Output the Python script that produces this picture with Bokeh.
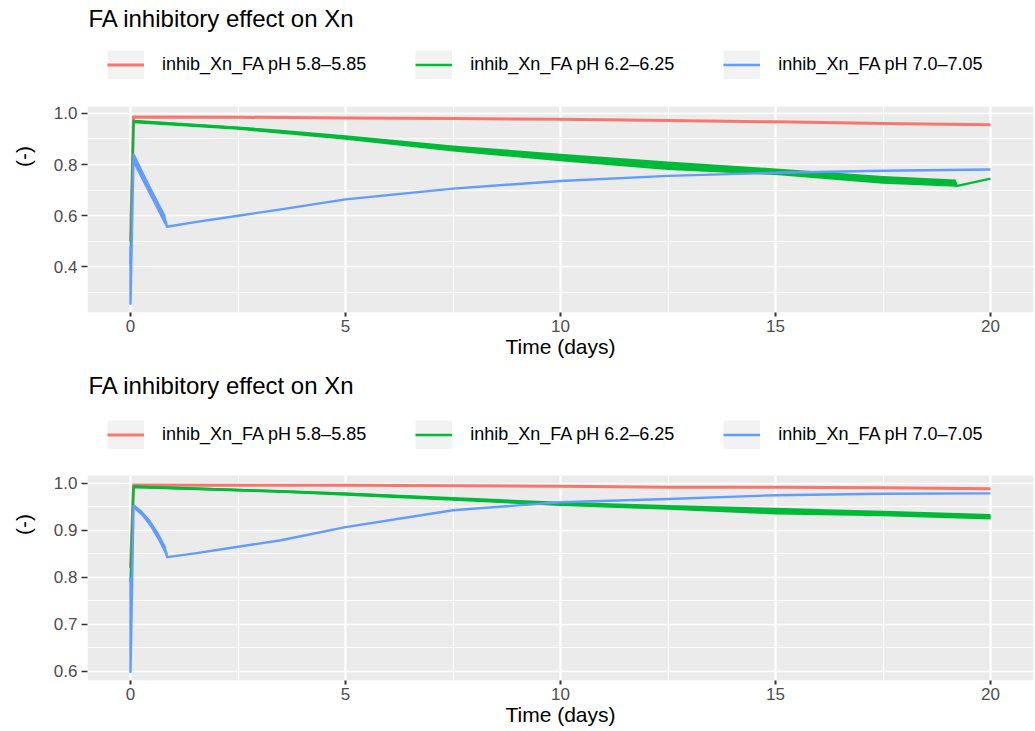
import numpy as np
from bokeh.plotting import figure
from bokeh.models import (Range1d, FixedTicker, PrintfTickFormatter, Legend,
                          LegendItem, Label, BoxAnnotation, Grid)
from bokeh.layouts import column
from bokeh.embed import file_html
from bokeh.resources import INLINE

FONT = "Liberation Sans"
TITLE = "FA inhibitory effect on Xn"
X_LABEL = "Time (days)"
Y_LABEL = "(-)"
series_labels = ["inhib_Xn_FA pH 5.8–5.85", "inhib_Xn_FA pH 6.2–6.25", "inhib_Xn_FA pH 7.0–7.05"]
series_colors = ["#F8766D", "#00BA38", "#619CFF"]

x_range = (-1, 21)
x_major = [0, 5, 10, 15, 20]
x_minor = [2.5, 7.5, 12.5, 17.5]

# ---------------- Panel A (top) ----------------
a_y_major = [0.4, 0.6, 0.8, 1.0]
a_y_minor = [0.3, 0.5, 0.7, 0.9]
a_y_range = (0.222, 1.027)

a_red_t = [0, 0.07, 2.5, 5, 7.5, 10, 12.5, 15, 17.5, 20]
a_red_v = [0.50, 0.986, 0.985, 0.982, 0.980, 0.977, 0.972, 0.967, 0.961, 0.956]

a_green_t = [0, 0.07, 2.5, 3.5, 5, 7.5, 10, 12.5, 15, 17.5, 19.2, 19.2, 20]
a_green_v = [0.41, 0.969, 0.943, 0.928, 0.906, 0.863, 0.828, 0.796, 0.772, 0.740, 0.728, 0.716, 0.745]
a_green_band_t = [0.07, 2.5, 3.5, 5, 7.5, 10, 12.5, 15, 17.5, 19.2]
a_green_hi = [0.975, 0.949, 0.936, 0.915, 0.875, 0.842, 0.812, 0.785, 0.755, 0.742]
a_green_lo = [0.962, 0.936, 0.921, 0.897, 0.851, 0.813, 0.779, 0.759, 0.725, 0.713]

a_blue_t = [0, 0, 0.07, 0.82, 0.85, 1.5, 2.5, 3.5, 5, 7.5, 10, 12.5, 15, 17.5, 20]
a_blue_v = [0.48, 0.256, 0.84, 0.578, 0.557, 0.575, 0.600, 0.625, 0.664, 0.706, 0.736, 0.756, 0.768, 0.776, 0.781]
a_blue_band_t = [0.07, 0.82]
a_blue_hi = [0.842, 0.600]
a_blue_lo = [0.803, 0.557]

# ---------------- Panel B (bottom) ----------------
b_y_major = [0.6, 0.7, 0.8, 0.9, 1.0]
b_y_minor = [0.65, 0.75, 0.85, 0.95]
b_y_range = (0.580, 1.017)

b_red_t = [0, 0.07, 2.5, 5, 7.5, 10, 12.5, 15, 17.5, 20]
b_red_v = [0.82, 0.997, 0.996, 0.996, 0.995, 0.994, 0.992, 0.992, 0.991, 0.989]

b_green_t = [0, 0.07, 2.5, 3.5, 5, 7.5, 10, 12.5, 15, 17.5, 20]
b_green_v = [0.79, 0.993, 0.986, 0.983, 0.978, 0.967, 0.956, 0.949, 0.941, 0.936, 0.929]
b_green_band_t = [0.07, 2.5, 3.5, 5, 7.5, 10, 12.5, 15, 17.5, 20]
b_green_hi = [0.996, 0.989, 0.986, 0.981, 0.971, 0.961, 0.954, 0.948, 0.942, 0.935]
b_green_lo = [0.990, 0.983, 0.980, 0.974, 0.963, 0.952, 0.944, 0.934, 0.930, 0.923]

b_blue_t = [0, 0, 0.07, 0.27, 0.46, 0.655, 0.83, 0.85, 1.5, 2.5, 3.5, 5, 7.5, 10, 12.5, 15, 17.5, 20]
b_blue_v = [0.80, 0.598, 0.952, 0.936, 0.914, 0.886, 0.854, 0.843, 0.851, 0.865, 0.879, 0.907, 0.943, 0.960, 0.967, 0.975, 0.978, 0.979]
b_blue_band_t = [0.07, 0.27, 0.46, 0.655, 0.83]
b_blue_hi = [0.957, 0.942, 0.922, 0.895, 0.864]
b_blue_lo = [0.947, 0.930, 0.907, 0.877, 0.845]

LINE_WIDTHS = [3.0, 2.4, 2.4]
HAS_CROSS = "cross_bounds" in Grid.properties()


def build(lines, bands, y_range, y_major, y_minor, height, panel_top,
          panel_bottom, title_base, key_bottom):
    y_lo, y_hi = y_range
    per_px = (y_hi - y_lo) / (panel_bottom - panel_top)
    frame_h = panel_bottom          # frame spans from canvas top to panel bottom
    y_end = y_hi + panel_top * per_px
    p = figure(width=1035, height=height, x_range=Range1d(*x_range),
               y_range=Range1d(y_lo, y_end), output_backend="svg",
               toolbar_location=None, min_border_left=87, min_border_right=2,
               min_border_top=0, min_border_bottom=height - panel_bottom)
    p.background_fill_color = "white"
    p.border_fill_color = "white"
    p.outline_line_color = None

    # grey panel
    p.add_layout(BoxAnnotation(bottom=y_lo, top=y_hi, fill_color="#EBEBEB",
                               fill_alpha=1.0, line_color=None, level="image"))

    # axes
    p.xaxis.ticker = FixedTicker(ticks=x_major, minor_ticks=x_minor)
    p.yaxis.ticker = FixedTicker(ticks=y_major, minor_ticks=y_minor)
    p.xaxis.formatter = PrintfTickFormatter(format="%d")
    p.yaxis.formatter = PrintfTickFormatter(format="%.1f")
    p.yaxis.bounds = (y_lo, y_hi)
    for ax in (p.xaxis[0], p.yaxis[0]):
        ax.axis_line_color = None
        ax.major_tick_line_color = "#333333"
        ax.major_tick_in = 0
        ax.minor_tick_line_color = None
        ax.major_label_text_color = "#4D4D4D"
        ax.major_label_text_font = FONT
        ax.major_label_text_font_size = "17px"
        ax.axis_label_text_font = FONT
        ax.axis_label_text_font_style = "normal"
        ax.axis_label_text_color = "black"
        ax.axis_label_text_font_size = "21px"
    p.xaxis.axis_label = X_LABEL
    p.yaxis.axis_label = Y_LABEL
    p.xaxis.major_tick_out = 4
    p.xaxis.major_tick_line_width = 2
    p.xaxis.major_label_standoff = 3
    p.xaxis.axis_label_standoff = 0
    p.yaxis.major_tick_out = 6
    p.yaxis.major_tick_line_width = 1.3
    p.yaxis.major_label_standoff = 4
    p.yaxis.axis_label_standoff = 16

    # grid
    p.ygrid.grid_line_color = "white"
    p.ygrid.grid_line_width = 1.6
    p.ygrid.minor_grid_line_color = "white"
    p.ygrid.minor_grid_line_width = 0.9
    if HAS_CROSS:
        p.xgrid.cross_bounds = (y_lo, y_hi)
        p.xgrid.grid_line_color = "white"
        p.xgrid.grid_line_width = 2.2
        p.xgrid.minor_grid_line_color = "white"
        p.xgrid.minor_grid_line_width = 1.1
    else:
        p.xgrid.visible = False
        p.segment(x0=x_major, x1=x_major, y0=[y_lo] * len(x_major), y1=[y_hi] * len(x_major),
                  line_color="white", line_width=2.2, level="underlay")
        p.segment(x0=x_minor, x1=x_minor, y0=[y_lo] * len(x_minor), y1=[y_hi] * len(x_minor),
                  line_color="white", line_width=1.1, level="underlay")

    # data
    renderers = []
    for (t, v), band, color, lw in zip(lines, bands, series_colors, LINE_WIDTHS):
        if band is not None:
            bt, lo, hi = band
            p.varea(x=bt, y1=lo, y2=hi, fill_color=color, fill_alpha=1.0)
        r = p.line(t, v, line_color=color, line_width=lw, line_join="round")
        renderers.append(r)

    # legend (key background drawn by a broad grey stroke)
    key_bg = p.line(x=[np.nan], y=[np.nan], line_color="#F2F2F2", line_width=29)
    items = [LegendItem(label=lab, renderers=[key_bg, r])
             for lab, r in zip(series_labels, renderers)]
    legend = Legend(items=items, orientation="horizontal",
                    location=(20, frame_h - key_bottom),
                    glyph_width=37, glyph_height=29, label_standoff=18,
                    spacing=49, padding=0, margin=0,
                    border_line_color=None, background_fill_alpha=0,
                    label_text_font=FONT, label_text_font_size="18px",
                    label_text_color="black")
    p.add_layout(legend)

    title = Label(x=1, y=frame_h - title_base, x_units="screen",
                  y_units="screen", text=TITLE, text_font=FONT,
                  text_font_size="24px", text_color="black",
                  text_align="left", text_baseline="alphabetic")
    p.add_layout(title)
    return p


p1 = build(
    lines=[(a_red_t, a_red_v), (a_green_t, a_green_v), (a_blue_t, a_blue_v)],
    bands=[None, (a_green_band_t, a_green_lo, a_green_hi),
           (a_blue_band_t, a_blue_lo, a_blue_hi)],
    y_range=a_y_range, y_major=a_y_major, y_minor=a_y_minor,
    height=368, panel_top=106, panel_bottom=312, title_base=18.3, key_bottom=78.7)

p2 = build(
    lines=[(b_red_t, b_red_v), (b_green_t, b_green_v), (b_blue_t, b_blue_v)],
    bands=[None, (b_green_band_t, b_green_lo, b_green_hi),
           (b_blue_band_t, b_blue_lo, b_blue_hi)],
    y_range=b_y_range, y_major=b_y_major, y_minor=b_y_minor,
    height=363, panel_top=107, panel_bottom=312, title_base=16.8, key_bottom=80.7)

layout = column(p1, p2)
open("out.html", "w").write(file_html(layout, INLINE))
